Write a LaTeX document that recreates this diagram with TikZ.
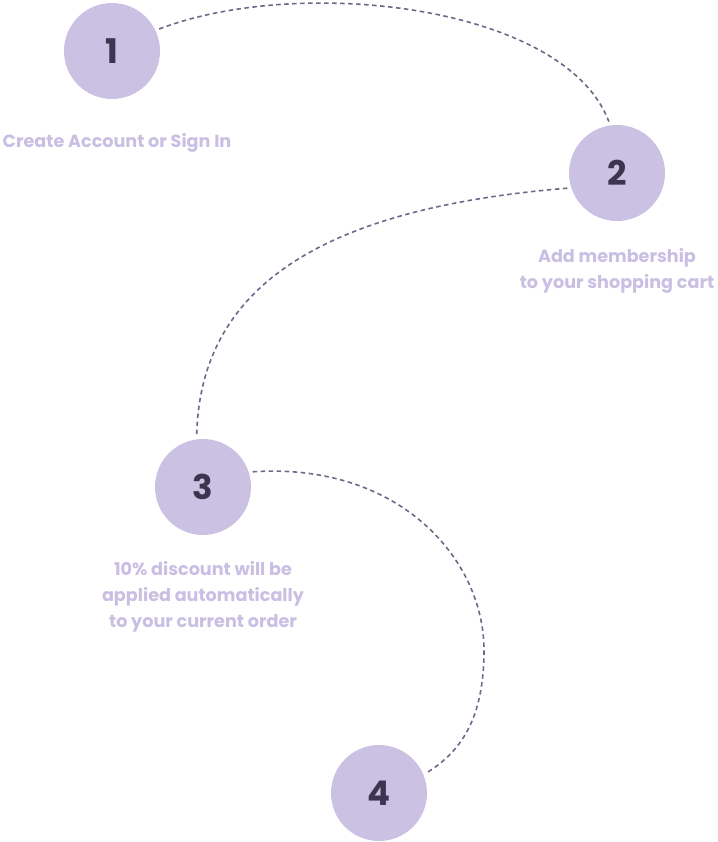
\documentclass[tikz,border=0pt]{standalone}
\usepackage{fontspec}
\setmainfont{Poppins}
\usepackage{tikz}
\definecolor{lila}{HTML}{CBC1E2}
\definecolor{lilatext}{HTML}{C9BFE3}
\definecolor{dunkel}{HTML}{3D3550}
\definecolor{strich}{HTML}{6E6888}
\tikzset{weg/.style={draw=strich,line width=1.6pt,dash pattern=on 4.5pt off 3.5pt}}

\begin{document}
\begin{tikzpicture}[x=1pt,y=-1pt]%
        \useasboundingbox (0,0) rectangle (717,842);%%
        \begin{scope}
        \tikzstyle{every node}=[circle,fill=lila,minimum size=96pt,inner sep=0pt,outer sep=4pt,text=dunkel,font=\fontsize{34}{34}\selectfont\bfseries] %%
        \node (c1) at (112,51)  {1}; %%
        \node (c2) at (617,173)  {2}; %%
        \node (c3) at (203,487)  {3}; %%
        \node (c4) at (379,793)  {4}; %%
        \end{scope}
        \begin{scope}
        \tikzstyle{every node}=[text=lilatext,align=center,font=\fontsize{17.6}{26}\selectfont\bfseries] %%
        \node (t1) at (117,143)  {Create Account or Sign In}; %%
        \node (t2) at (617,271)  {Add membership\\to your shopping cart}; %%
        \node (t3) at (203,597)  {10\% discount will be\\applied automatically\\to your current order}; %%
        \end{scope}
\draw[weg] (c1.25) .. controls (300,-25) and (565,5) .. (c2.99); %%
\draw[weg] (c2.197) .. controls (300,210) and (200,300) .. (c3.97); %%
\draw[weg] (c3.17) .. controls (400,462) and (484,560) .. (484,650) .. controls (484,720) and (460,752) .. (c4.23); %%
\end{tikzpicture}
\end{document}
